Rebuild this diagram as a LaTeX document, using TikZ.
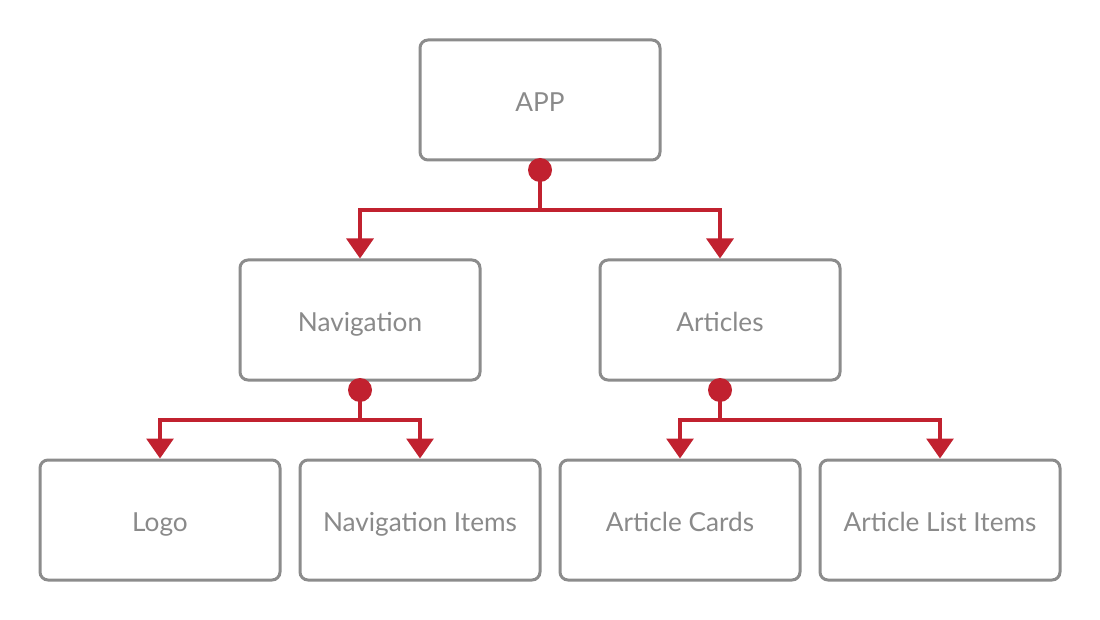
\documentclass[tikz,border=0pt]{standalone}
\usepackage{fontspec}
\setmainfont{Lato}
\usetikzlibrary{arrows.meta}
\definecolor{boxgray}{HTML}{8C8C8C}
\definecolor{txtgray}{HTML}{8A8A8A}
\definecolor{linkred}{HTML}{C1212F}
\tikzset{
  compbox/.style={draw=boxgray, line width=3pt, rounded corners=8pt, fill=white,
    minimum width=240pt, minimum height=120pt, inner sep=0pt,
    text height=23.6pt, text depth=0pt,
    text=txtgray, font=\fontsize{26.2}{30}\selectfont},
  conn/.style={draw=linkred, line width=3.3pt,
    -{Triangle[width=27pt,length=20pt]}},
  jdot/.style={circle, fill=linkred, draw=none, minimum size=24pt, inner sep=0pt}
}
\begin{document}
\begin{tikzpicture}[x=1pt,y=-1pt]
\useasboundingbox (0,0) rectangle (1100,620);
\node[compbox] (app) at (540,100) {APP};
\node[compbox] (nav) at (360,320) {Navigation};
\node[compbox] (art) at (720,320) {Articles};
\node[compbox] (logo) at (160,520) {Logo};
\node[compbox] (navi) at (420,520) {Navigation Items};
\node[compbox] (card) at (680,520) {Article Cards};
\node[compbox] (list) at (940,520) {Article List Items};
\node[jdot] (d1) at (540,170) {};
\node[jdot] (d2) at (360,390) {};
\node[jdot] (d3) at (720,390) {};
\draw[conn] (d1.center) -- ++(0,40) -| (nav.north);
\draw[conn] (d1.center) -- ++(0,40) -| (art.north);
\draw[conn] (d2.center) -- ++(0,30) -| (logo.north);
\draw[conn] (d2.center) -- ++(0,30) -| (navi.north);
\draw[conn] (d3.center) -- ++(0,30) -| (card.north);
\draw[conn] (d3.center) -- ++(0,30) -| (list.north);
\end{tikzpicture}
\end{document}
